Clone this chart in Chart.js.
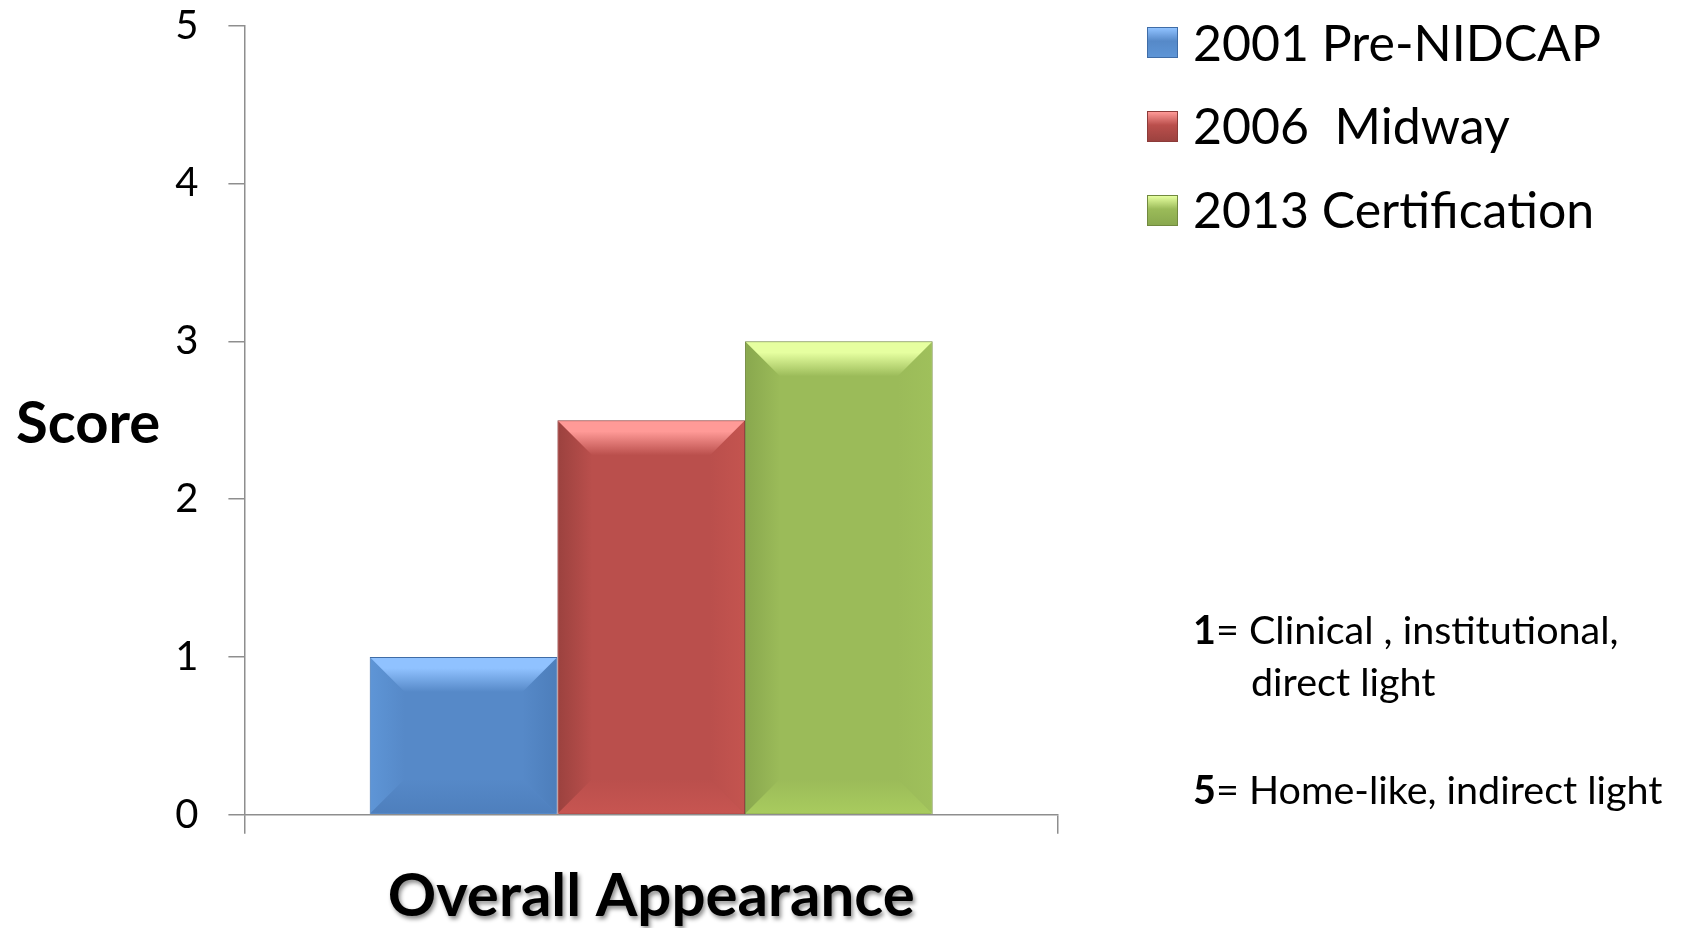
<!DOCTYPE html>
<html>
<head>
<meta charset="utf-8">
<script src="https://cdn.jsdelivr.net/npm/chart.js@4.4.1/dist/chart.umd.min.js"></script>
<style>
  html, body { margin: 0; padding: 0; background: #fff; }
  #wrap { position: relative; width: 1681px; height: 928px; font-family: Lato, sans-serif; color: #000; }
  #chart { position: absolute; left: 0; top: 0; }
  .txt { position: absolute; white-space: pre; line-height: 1; }
  .key { position: absolute; width: 31px; height: 31px; box-sizing: border-box; }
</style>
</head>
<body>
<div id="wrap">
  <canvas id="chart" width="1681" height="928"></canvas>
  <div class="txt" id="score" style="left:16px; top:392px; font-size:58px; font-weight:bold;">Score</div>
  <div id="legend"></div>
  <div class="txt" style="left:1193px; top:609px; font-size:39.5px;"><b>1</b>= Clinical , institutional,</div>
  <div class="txt" style="left:1251px; top:661px; font-size:39.5px;">direct light</div>
  <div class="txt" style="left:1193px; top:769px; font-size:39.5px;"><b>5</b>= Home-like, indirect light</div>
</div>
<script>
const categories = ['Overall Appearance'];
const seriesNames = ['2001 Pre-NIDCAP', '2006  Midway', '2013 Certification'];
const seriesValues = [[1], [2.5], [3]];
const yTicks = [0, 1, 2, 3, 4, 5];

// bar colours: base, top highlight, left / right / bottom bevel, outline
const shades = [
  { base: '#5689C8', top: '#90C2FF', left: '#5E95D6', right: '#4D7EBB', bottom: '#4E7FBD', line: '#3F6CA6' },
  { base: '#BA4F4C', top: '#FF9A97', left: '#9C423F', right: '#C4544F', bottom: '#C75551', line: '#8C3B39' },
  { base: '#9BBB59', top: '#E6FFA0', left: '#89A84E', right: '#9FC05B', bottom: '#A8CB5E', line: '#71893F' }
];

function poly(ctx, pts, fill) {
  ctx.beginPath();
  ctx.moveTo(pts[0][0], pts[0][1]);
  for (let k = 1; k < pts.length; k++) ctx.lineTo(pts[k][0], pts[k][1]);
  ctx.closePath();
  ctx.fillStyle = fill;
  ctx.fill();
}

const bevel = {
  id: 'bevel',
  afterDatasetsDraw(chart) {
    const ctx = chart.ctx;
    chart.data.datasets.forEach((ds, i) => {
      const sh = shades[i];
      chart.getDatasetMeta(i).data.forEach(bar => {
        const p = bar.getProps(['x', 'y', 'base', 'width'], true);
        const l = p.x - p.width / 2 + 1, r = p.x + p.width / 2 - 1;
        const t = Math.min(p.y, p.base) + 1, b = Math.max(p.y, p.base) - 1;
        const d = Math.min(34, p.width / 2, (b - t) / 2);
        ctx.save();
        let g = ctx.createLinearGradient(l, 0, l + d, 0);
        g.addColorStop(0, sh.left); g.addColorStop(1, sh.base);
        poly(ctx, [[l, t], [l + d, t + d], [l + d, b - d], [l, b]], g);
        g = ctx.createLinearGradient(r, 0, r - d, 0);
        g.addColorStop(0, sh.right); g.addColorStop(1, sh.base);
        poly(ctx, [[r, t], [r - d, t + d], [r - d, b - d], [r, b]], g);
        g = ctx.createLinearGradient(0, b, 0, b - d);
        g.addColorStop(0, sh.bottom); g.addColorStop(1, sh.base);
        poly(ctx, [[l, b], [r, b], [r - d, b - d], [l + d, b - d]], g);
        g = ctx.createLinearGradient(0, t, 0, t + d);
        g.addColorStop(0, sh.top); g.addColorStop(0.3, sh.top); g.addColorStop(1, sh.base);
        poly(ctx, [[l, t], [r, t], [r - d, t + d], [l + d, t + d]], g);
        ctx.restore();
      });
    });
  }
};

// soft drop shadow under the category label
const labelShadow = {
  id: 'labelShadow',
  beforeDraw(chart) {
    const sc = chart.scales.x;
    if (sc._shadowed) return;
    const draw = sc.drawLabels;
    sc.drawLabels = function (area) {
      const ctx = this.ctx;
      ctx.save();
      ctx.shadowColor = 'rgba(0,0,0,0.45)';
      ctx.shadowBlur = 4;
      ctx.shadowOffsetX = 2;
      ctx.shadowOffsetY = 3;
      draw.call(this, area);
      ctx.restore();
    };
    sc._shadowed = true;
  }
};

Chart.defaults.font.family = 'Lato, sans-serif';
Chart.defaults.color = '#000';

new Chart(document.getElementById('chart'), {
  type: 'bar',
  data: {
    labels: categories,
    datasets: seriesNames.map((name, i) => ({
      label: name,
      data: seriesValues[i],
      backgroundColor: shades[i].base,
      borderColor: shades[i].line,
      borderWidth: 1
    }))
  },
  options: {
    responsive: false,
    animation: false,
    categoryPercentage: 0.692,
    barPercentage: 1,
    layout: { padding: { top: 25.7, right: 623, bottom: 0, left: 0 } },
    plugins: { legend: { display: false }, tooltip: { enabled: false } },
    scales: {
      x: {
        grid: { display: true, drawOnChartArea: false, tickLength: 19, color: '#8E8E8E', lineWidth: 1.5 },
        border: { display: true, color: '#8E8E8E', width: 1.5 },
        ticks: { font: { size: 60, weight: 'bold' }, padding: 27, color: '#000' },
        afterFit: s => { s.height = 113.3; s.paddingLeft = 0; s.paddingRight = 0; }
      },
      y: {
        min: yTicks[0],
        max: yTicks[yTicks.length - 1],
        ticks: { stepSize: yTicks[1] - yTicks[0], font: { size: 40 }, padding: 30, color: '#000' },
        grid: { display: true, drawOnChartArea: false, tickLength: 16, color: '#8E8E8E', lineWidth: 1.5 },
        border: { display: true, color: '#8E8E8E', width: 1.5 },
        afterFit: s => { s.width = 244.4; s.paddingTop = 0; s.paddingBottom = 0; }
      }
    }
  },
  plugins: [bevel, labelShadow]
});

// legend
const legend = document.getElementById('legend');
seriesNames.forEach((name, i) => {
  const cy = 42.9 + i * 83.6;
  const sh = shades[i];
  const key = document.createElement('div');
  key.className = 'key';
  key.style.left = '1147px';
  key.style.top = (cy - 15.5) + 'px';
  key.style.border = '1px solid ' + sh.line;
  key.style.background = 'linear-gradient(to bottom, ' + sh.top + ' 0%, ' + sh.base + ' 45%, ' + sh.left + ' 100%)';
  legend.appendChild(key);
  const t = document.createElement('div');
  t.className = 'txt';
  t.style.left = '1193px';
  t.style.fontSize = '50px';
  t.style.top = (cy - 0.527 * 50) + 'px';
  t.textContent = name;
  legend.appendChild(t);
});
</script>
</body>
</html>
